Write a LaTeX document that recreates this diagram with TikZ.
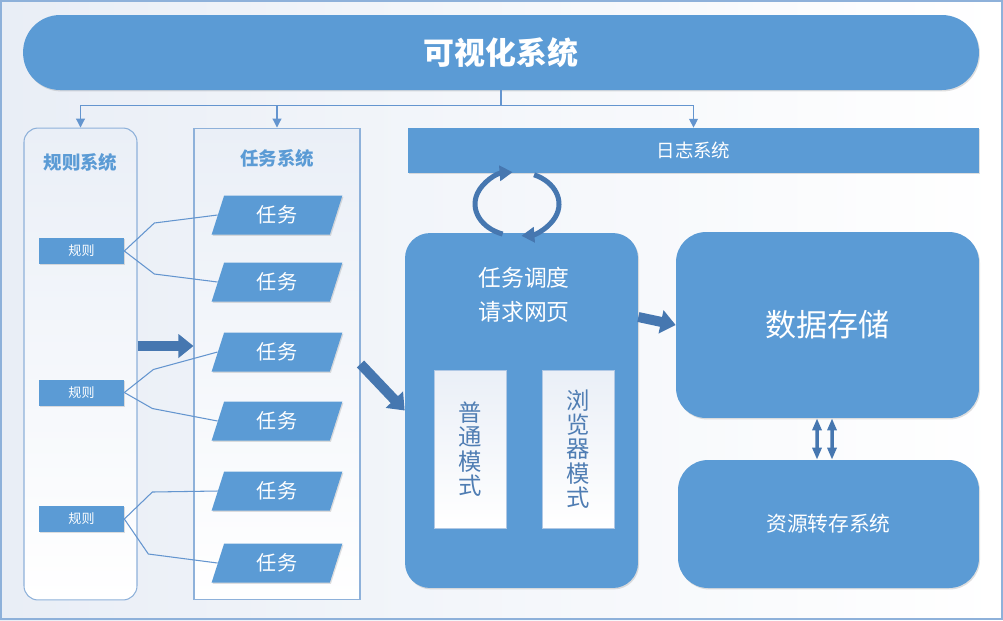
\documentclass[tikz,border=0pt]{standalone}
\usepackage{fontspec}
\setmainfont{Noto Sans CJK SC}
\usetikzlibrary{arrows.meta}
\usetikzlibrary{shapes.geometric}
\usetikzlibrary{shadows}
\definecolor{boxblue}{HTML}{5B9BD5}
\definecolor{darkblue}{HTML}{4677B0}
\definecolor{lineblue}{HTML}{6495CF}
\definecolor{frameblue}{HTML}{8EB1DA}
\definecolor{paper}{HTML}{E9EEF6}
\definecolor{mist}{HTML}{EAEFF7}
\definecolor{modetext}{HTML}{4F7DB3}
\tikzset{
  soft/.style={drop shadow={opacity=0.25,shadow xshift=0.6pt,shadow yshift=-0.8pt}},
  block/.style={fill=boxblue,text=white,inner sep=0pt,soft},
  container/.style={draw=frameblue,line width=0.6pt,top color=mist,bottom color=white,inner sep=0pt},
  head/.style={text=boxblue,font=\fontsize{10.5}{12}\bfseries},
  rule/.style={block,minimum width=1.7cm,minimum height=0.52cm,font=\fontsize{7.4}{9}\selectfont},
  task/.style={block,trapezium,trapezium left angle=75.6,trapezium right angle=104.4,
    trapezium stretches=true,minimum width=2.62cm,minimum height=0.78cm,
    font=\fontsize{11.5}{13}\selectfont},
  mode/.style={draw=frameblue!70,line width=0.4pt,top color=mist,bottom color=white,
    text=modetext,align=center,inner sep=0pt,minimum width=1.44cm,minimum height=3.16cm,
    font=\fontsize{13.3}{13.8}\selectfont}
}

\begin{document}
\begin{tikzpicture}[x=0.02cm,y=-0.02cm,
  % thin links, fat arrows and the loop around the log bar
  link/.style={draw=lineblue,line width=0.6pt},
  tip/.style={link,-{Triangle[width=5pt,length=5pt]}},
  fat/.style={draw=darkblue,line width=0.2cm,-{Triangle[width=0.46cm,length=0.3cm]}},
  cyc/.style={draw=darkblue,line width=0.1cm,-{Triangle[width=0.3cm,length=0.26cm]}},
  both/.style={draw=darkblue,line width=0.07cm,
    {Triangle[width=0.18cm,length=0.24cm]}-{Triangle[width=0.18cm,length=0.24cm]}}]

\useasboundingbox (0,0) rectangle (1003,620);
\fill[left color=paper,right color=white] (0,0) rectangle (1003,620);
\draw[frameblue,line width=1pt] (1,1) rectangle (1002,619);

\node[block,rounded corners=0.74cm,minimum width=19.12cm,minimum height=1.5cm,
  font=\fontsize{17.6}{20}\bfseries] (title) at (501,52.5) {可视化系统};

\node[container,rounded corners=0.28cm,minimum width=2.26cm,minimum height=9.44cm] (rules) at (80.5,364) {};
\node[container,minimum width=3.32cm,minimum height=9.44cm] (tasks) at (277,364) {};
\node[head] (rulesname) at (80.5,162) {规则系统};
\node[head] (tasksname) at (277,158) {任务系统};

\node[block,minimum width=11.42cm,minimum height=0.9cm,
  font=\fontsize{10.5}{12}\selectfont] (log) at (693.5,150.5) {日志系统};

\draw[link] (title.south) -- ++(0,15) coordinate (bus);
\draw[tip] (bus) -| (rules.north);
\draw[tip] (bus) -| (tasks.north);
\draw[tip] (bus) -| (log.north);

\foreach \y [count=\i] in {251,392.5,519}
  \node[rule] (r\i) at (81.5,\y) {规则};
\foreach \y [count=\i] in {215,282,352,421,491,563}
  \node[task] (t\i) at (277,\y) {任务};
\foreach \r/\t/\dx/\dy in {1/1/30/-28,1/2/30/23,2/3/29/-23,2/4/28/16,3/5/28/-27,3/6/24/35}
  \draw[link] (r\r.east) -- ++(\dx,\dy) -- (t\t.west);

\node[block,rounded corners=0.5cm,minimum width=4.66cm,minimum height=7.1cm] (sched) at (521.5,410.5) {};
\node[text=white,align=center,font=\fontsize{13}{19.3}\selectfont] (schedname) at (524,295) {任务调度\\请求网页};
\node[mode] (plain) at (470,449) {普\\通\\模\\式};
\node[mode] (browser) at (578.5,449) {浏\\览\\器\\模\\式};

\node[block,rounded corners=0.6cm,minimum width=6.06cm,minimum height=3.72cm,
  font=\fontsize{17.7}{20}\selectfont] (store) at (827.5,325) {数据存储};
\node[block,rounded corners=0.6cm,minimum width=6.02cm,minimum height=2.56cm,
  font=\fontsize{11.8}{14}\selectfont] (dump) at (828.5,524) {资源转存系统};

\draw[fat] ([yshift=0.36cm]rules.east) -- ([yshift=0.36cm]tasks.west);
\draw[fat] (tasks.east) -- (sched.west);
\draw[fat] ([yshift=1.87cm]sched.east) -- (store.west);
\draw[both] ([xshift=-0.21cm]store.south) -- ([xshift=-0.23cm]dump.north);
\draw[both] ([xshift=0.09cm]store.south) -- ([xshift=0.07cm]dump.north);

\coordinate (loop) at (517,204);
\draw[cyc] (loop) ++(250:0.84cm and 0.64cm) arc[start angle=250,end angle=96,x radius=0.84cm,y radius=0.64cm];
\draw[cyc] (loop) ++(66:0.84cm and 0.64cm) arc[start angle=66,end angle=-84,x radius=0.84cm,y radius=0.64cm];
\end{tikzpicture}
\end{document}
